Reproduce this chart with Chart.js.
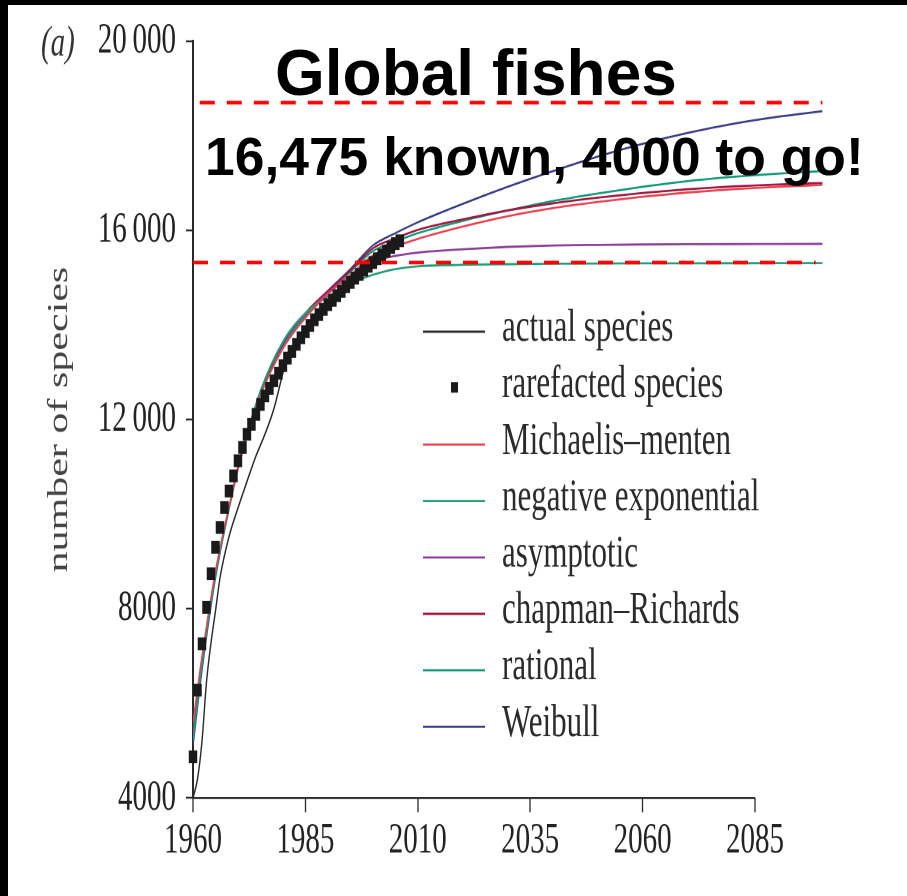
<!DOCTYPE html>
<html>
<head>
<meta charset="utf-8">
<script src="https://cdn.jsdelivr.net/npm/chart.js@4.4.1/dist/chart.umd.min.js"></script>
<style>
  html, body { margin: 0; padding: 0; background: #fff; }
  #page { position: relative; width: 907px; height: 896px; overflow: hidden; background: #fff; }
  /* the figure is drawn at 2/3 height and stretched to its tall, narrow print proportions */
  #plot { position: absolute; left: 0; top: 0; width: 907px; height: 597px;
          transform: scale(1, 1.50084); transform-origin: 0 0; }
  .frame { position: absolute; background: #000; }
  .headline { position: absolute; font-family: "Liberation Sans", Arial, sans-serif; font-weight: bold;
              color: #000; line-height: 1; white-space: nowrap; }
</style>
</head>
<body>
<div id="page">
  <div id="plot"><canvas id="chart" width="907" height="597"></canvas></div>
  <div class="headline" style="left:275px; top:41px; font-size:64px;">Global fishes</div>
  <div class="headline" style="left:205px; top:130px; font-size:53.4px;">16,475 known, 4000 to go!</div>
  <div class="frame" style="left:0; top:0; width:907px; height:5px;"></div>
  <div class="frame" style="left:0; top:0; width:8px; height:896px;"></div>
</div>
<script>
// ---- axis ticks ----
const xTickValues = [1960, 1985, 2010, 2035, 2060, 2085];
const yTickValues = [4000, 8000, 12000, 16000, 20000];

// ---- rarefacted species (one point per year) ----
const rarefiedYears = [
  1960, 1961, 1962, 1963, 1964, 1965, 1966, 1967, 1968, 1969,
  1970, 1971, 1972, 1973, 1974, 1975, 1976, 1977, 1978, 1979,
  1980, 1981, 1982, 1983, 1984, 1985, 1986, 1987, 1988, 1989,
  1990, 1991, 1992, 1993, 1994, 1995, 1996, 1997, 1998, 1999,
  2000, 2001, 2002, 2003, 2004, 2005, 2006
];
const rarefiedSpecies = [
  4870, 6280, 7260, 8030, 8740, 9300, 9720, 10140, 10490, 10810,
  11130, 11410, 11690, 11900, 12110, 12320, 12500, 12660, 12820, 12980,
  13140, 13300, 13440, 13590, 13730, 13860, 13990, 14110, 14220, 14330,
  14430, 14520, 14620, 14710, 14810, 14900, 14990, 15070, 15160, 15240,
  15320, 15400, 15480, 15560, 15640, 15720, 15780
];

// ---- actual cumulative species ----
const actualYears = [1960, 1961, 1962, 1963, 1964, 1965, 1966, 1968, 1970, 1972, 1974,
                     1976, 1978, 1979, 1980, 1981, 1983, 1985, 1990, 1995, 2000, 2006];
const actualSpecies = [4000, 4400, 5200, 6450, 7280, 7950, 8650, 9520, 10130, 10690, 11230,
                       11690, 12230, 12600, 12980, 13280, 13600, 13860, 14430, 14900, 15320, 15780];

// ---- fitted accumulation models ----
const modelYears = [1960, 1962, 1965, 1968, 1970, 1975, 1980, 1985, 1990, 1995, 2000,
                    2005, 2010, 2020, 2030, 2040, 2050, 2060, 2070, 2080, 2090, 2100];
const michaelisMenten = [5600, 7000, 8800, 10150, 10950, 12500, 13500, 14150, 14650, 15050, 15470,
                         15660, 15820, 16080, 16300, 16470, 16600, 16710, 16800, 16870, 16920, 16960];
const negativeExponential = [5200, 6800, 8700, 10100, 10950, 12600, 13650, 14250, 14600, 14870, 15060,
                             15180, 15240, 15270, 15285, 15295, 15300, 15303, 15304, 15305, 15306, 15306];
const asymptotic = [5300, 6850, 8750, 10100, 10950, 12600, 13620, 14230, 14680, 15050, 15330,
                    15460, 15530, 15600, 15650, 15680, 15693, 15702, 15707, 15710, 15712, 15714];
const chapmanRichards = [5300, 6850, 8750, 10150, 11000, 12600, 13600, 14250, 14720, 15150, 15620,
                         15830, 16010, 16230, 16420, 16570, 16690, 16790, 16870, 16930, 16970, 17000];
const rational = [5400, 6900, 8750, 10100, 10950, 12550, 13550, 14200, 14700, 15120, 15560,
                  15760, 15940, 16200, 16420, 16620, 16780, 16920, 17040, 17130, 17200, 17253];
const weibull = [5100, 6700, 8650, 10100, 10950, 12550, 13550, 14200, 14720, 15180, 15680,
                 15940, 16170, 16560, 16920, 17250, 17560, 17830, 18060, 18250, 18400, 18520];

// ---- reference levels (dashed) ----
const upperLevel = 18700;
const upperLevelSpan = [1961.5, 2100];
const lowerLevel = 15320;
const lowerLevelSpan = [1960, 2098.5];

const pts = (xs, ys) => xs.map((x, i) => ({ x: x, y: ys[i] }));
const flat = (span, level) => span.map(x => ({ x: x, y: level }));

function modelSet(label, values, color) {
  return {
    label: label, data: pts(modelYears, values), borderColor: color, backgroundColor: color,
    borderWidth: 1.4, pointRadius: 0, cubicInterpolationMode: 'monotone', order: 3
  };
}

const datasets = [
  { label: 'actual species', data: pts(actualYears, actualSpecies), borderColor: '#2b2b2b',
    backgroundColor: '#2b2b2b', borderWidth: 1.4, pointRadius: 0, cubicInterpolationMode: 'monotone', order: 2 },
  { label: 'rarefacted species', data: pts(rarefiedYears, rarefiedSpecies), showLine: false,
    pointStyle: 'rect', pointRadius: 6, pointBackgroundColor: '#1a1a1a', pointBorderColor: '#1a1a1a',
    pointBorderWidth: 0, clip: false, order: 1 },
  modelSet('Michaelis\u2013menten', michaelisMenten, '#e8434f'),
  modelSet('negative exponential', negativeExponential, '#1f9e78'),
  modelSet('asymptotic', asymptotic, '#8b3f96'),
  modelSet('chapman\u2013Richards', chapmanRichards, '#a3163f'),
  modelSet('rational', rational, '#12997a'),
  modelSet('Weibull', weibull, '#3c3c88'),
  { data: flat(upperLevelSpan, upperLevel), borderColor: '#ff0000', borderWidth: 2.4,
    borderDash: [15, 12], pointRadius: 0, clip: false, order: 0, noLegend: true },
  { data: flat(lowerLevelSpan, lowerLevel), borderColor: '#ff0000', borderWidth: 2.4,
    borderDash: [15, 12], pointRadius: 0, clip: false, order: 0, noLegend: true }
];

const serif = '"Liberation Serif", "Times New Roman", serif';

// axis baseline (only as far as the last labelled year), panel letter and key
const figureDecor = {
  id: 'figureDecor',
  beforeDatasetsDraw(chart) {
    const { ctx, scales: { x, y } } = chart;
    ctx.save();
    ctx.strokeStyle = '#2a2a2a';
    ctx.lineWidth = 1.4;
    ctx.beginPath();
    ctx.moveTo(x.getPixelForValue(xTickValues[0]) - 1, y.bottom);
    ctx.lineTo(x.getPixelForValue(xTickValues[xTickValues.length - 1]), y.bottom);
    ctx.stroke();
    ctx.restore();
  },
  afterDraw(chart) {
    const { ctx, scales: { y } } = chart;
    ctx.save();
    ctx.fillStyle = '#333';
    ctx.font = 'italic 29px ' + serif;
    ctx.textAlign = 'left';
    ctx.textBaseline = 'middle';
    ctx.fillText('(a)', 41, y.top + 2);

    // key
    const rows = chart.data.datasets.filter(d => !d.noLegend);
    const rowTop = 221, rowStep = 37.6;
    const lineX0 = 423, lineX1 = 485, textX = 502;
    ctx.font = '31px ' + serif;
    rows.forEach((d, i) => {
      const ry = rowTop + i * rowStep;
      if (d.showLine === false) {
        ctx.fillStyle = '#1a1a1a';
        ctx.fillRect(451, ry - 4, 7, 7);
      } else {
        ctx.strokeStyle = d.borderColor;
        ctx.lineWidth = 1.4;
        ctx.beginPath();
        ctx.moveTo(lineX0, ry);
        ctx.lineTo(lineX1, ry);
        ctx.stroke();
      }
      ctx.fillStyle = '#2a2a2a';
      ctx.fillText(d.label, textX, ry - 2);
    });
    ctx.restore();
  }
};

const fmtY = v => v >= 10000 ? String(v).replace(/(\d{2})(\d{3})$/, '$1\u2009$2') : String(v);

new Chart(document.getElementById('chart'), {
  type: 'line',
  data: { datasets: datasets },
  options: {
    responsive: false,
    devicePixelRatio: 2,
    animation: false,
    events: [],
    layout: { padding: { top: 26, right: 84.6, left: 0, bottom: 0 } },
    plugins: { legend: { display: false }, tooltip: { enabled: false } },
    scales: {
      x: {
        type: 'linear', min: 1960, max: 2100,
        afterBuildTicks: s => { s.ticks = xTickValues.map(v => ({ value: v })); },
        afterFit: s => { s.height = 65.3; },
        border: { display: false },
        grid: { drawOnChartArea: false, drawTicks: true, tickLength: 9.5, tickWidth: 1.3, tickColor: '#2a2a2a' },
        ticks: { color: '#222', font: { family: serif, size: 29 }, padding: 2, maxRotation: 0, autoSkip: false,
                 callback: v => String(v) }
      },
      y: {
        type: 'linear', min: 4000, max: 20000,
        afterBuildTicks: s => { s.ticks = yTickValues.map(v => ({ value: v })); },
        afterFit: s => { s.width = 193; },
        border: { display: true, color: '#2a2a2a', width: 2 },
        grid: { drawOnChartArea: false, drawTicks: true, tickLength: 7, tickWidth: 1.3, tickColor: '#2a2a2a' },
        ticks: { color: '#222', font: { family: serif, size: 29 }, padding: 10, autoSkip: false,
                 callback: v => fmtY(v) },
        title: { display: true, text: 'number of species', color: '#444',
                 font: { family: serif, size: 28 }, padding: { top: 43, bottom: 0 } }
      }
    }
  },
  plugins: [figureDecor]
});
</script>
</body>
</html>
